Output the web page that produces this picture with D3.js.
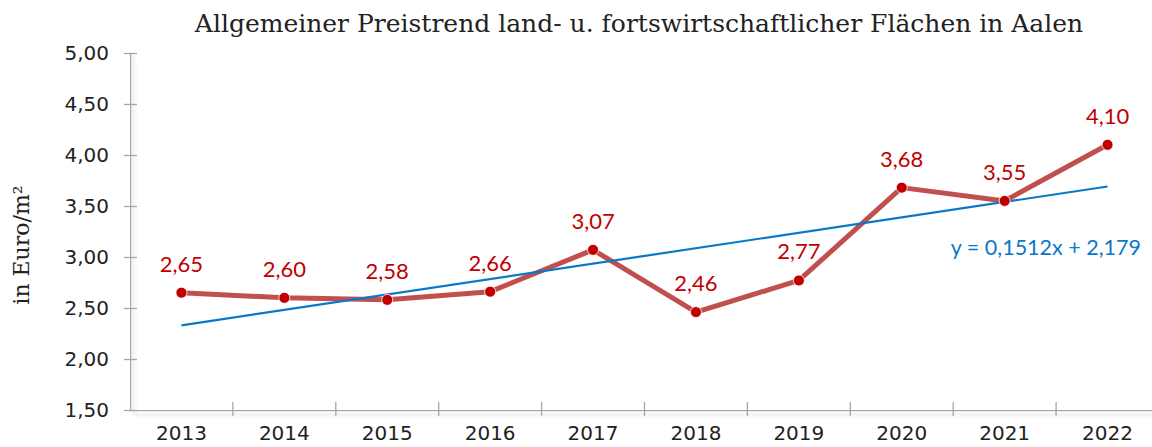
<!DOCTYPE html>
<html>
<head>
<meta charset="utf-8">
<script src="https://cdn.jsdelivr.net/npm/d3@7"></script>
<style>
  body { margin: 0; background: #fff; overflow: hidden; }
</style>
</head>
<body>
<div id="chart"></div>
<script>
// chart data
var years = ["2013", "2014", "2015", "2016", "2017", "2018", "2019", "2020", "2021", "2022"];
var prices = [2.65, 2.60, 2.58, 2.66, 3.07, 2.46, 2.77, 3.68, 3.55, 4.10];
var yTicks = [1.5, 2.0, 2.5, 3.0, 3.5, 4.0, 4.5, 5.0];
var trendSlope = 0.1512;
var trendIntercept = 2.179;

var titleText = "Allgemeiner Preistrend land- u. fortswirtschaftlicher Flächen in Aalen";
var yTitle = "in Euro/m²";
var trendLabel = "y = 0,1512x + 2,179";

// dimensions
var W = 1152, H = 447;
var margin = {top: 53, left: 130, bottom: 37};
var plotRight = 1159;
var plotBottom = H - margin.bottom;

var svg = d3.select("#chart").append("svg")
    .attr("width", W)
    .attr("height", H);

// soft shadow for the axis lines
var defs = svg.append("defs");
var shadow = defs.append("filter").attr("id", "axshadow")
    .attr("filterUnits", "userSpaceOnUse")
    .attr("x", 0).attr("y", 0).attr("width", W + 20).attr("height", H + 20);
shadow.append("feGaussianBlur").attr("in", "SourceAlpha").attr("stdDeviation", 2.5);
shadow.append("feOffset").attr("dx", 2).attr("dy", 3).attr("result", "b");
shadow.append("feComponentTransfer").append("feFuncA").attr("type", "linear").attr("slope", 0.22);
var merge = shadow.append("feMerge");
merge.append("feMergeNode");
merge.append("feMergeNode").attr("in", "SourceGraphic");

var x = d3.scaleBand()
    .domain(years)
    .range([margin.left, plotRight])
    .padding(0);
var y = d3.scaleLinear()
    .domain([1.5, 5])
    .range([plotBottom, margin.top]);

var fmt = function(v) { return d3.format(".2f")(v).replace(".", ","); };

// y axis
var yAxis = svg.append("g")
    .attr("transform", "translate(" + margin.left + ",0)")
    .call(d3.axisLeft(y).tickValues(yTicks).tickFormat(fmt).tickSizeInner(6).tickSizeOuter(0).tickPadding(15));
yAxis.select(".domain").attr("stroke", "#a6a6a6").attr("stroke-width", 1.5).attr("filter", "url(#axshadow)");
yAxis.selectAll(".tick line").attr("stroke", "#a6a6a6").attr("stroke-width", 1.3)
    .attr("x1", 7).attr("x2", -6);
yAxis.selectAll("text")
    .attr("font-family", "DejaVu Sans")
    .attr("font-size", 20)
    .attr("fill", "#222");

// x axis
var xAxis = svg.append("g")
    .attr("transform", "translate(0," + plotBottom + ")")
    .call(d3.axisBottom(x).tickSizeOuter(0).tickSize(0).tickPadding(16));
xAxis.select(".domain").attr("stroke", "#a6a6a6").attr("stroke-width", 1.5).attr("filter", "url(#axshadow)");
xAxis.selectAll(".tick line").remove();
xAxis.selectAll("text")
    .attr("font-family", "DejaVu Sans")
    .attr("font-size", 20)
    .attr("fill", "#222");
// category separator ticks
xAxis.selectAll(".sep")
    .data(years.slice(1))
    .enter().append("line")
    .attr("class", "sep")
    .attr("x1", function(d) { return x(d); })
    .attr("x2", function(d) { return x(d); })
    .attr("y1", -8)
    .attr("y2", 6)
    .attr("stroke", "#a6a6a6")
    .attr("stroke-width", 1.3);

var xc = function(d) { return x(d) + x.bandwidth() / 2; };

// price line
var line = d3.line()
    .x(function(d, i) { return xc(years[i]); })
    .y(function(d) { return y(d); });
svg.append("path")
    .datum(prices)
    .attr("d", line)
    .attr("fill", "none")
    .attr("stroke", "#c0504d")
    .attr("stroke-width", 5)
    .attr("stroke-linejoin", "round");

// trend line (drawn over the price line)
svg.append("line")
    .attr("x1", xc(years[0]))
    .attr("y1", y(trendSlope * 1 + trendIntercept))
    .attr("x2", xc(years[years.length - 1]))
    .attr("y2", y(trendSlope * years.length + trendIntercept))
    .attr("stroke", "#0a78c8")
    .attr("stroke-width", 2.2);

svg.append("text")
    .attr("x", 1141)
    .attr("y", 255)
    .attr("text-anchor", "end")
    .attr("font-family", "Lato")
    .attr("font-size", 21.5)
    .attr("fill", "#0a78c8")
    .text(trendLabel);

svg.selectAll(".pt")
    .data(prices)
    .enter().append("circle")
    .attr("class", "pt")
    .attr("cx", function(d, i) { return xc(years[i]); })
    .attr("cy", function(d) { return y(d); })
    .attr("r", 5.5)
    .attr("fill", "#c00000")
    .attr("stroke", "#fff")
    .attr("stroke-width", 0.8);

svg.selectAll(".lbl")
    .data(prices)
    .enter().append("text")
    .attr("class", "lbl")
    .attr("x", function(d, i) { return xc(years[i]); })
    .attr("y", function(d) { return y(d) - 21; })
    .attr("text-anchor", "middle")
    .attr("font-family", "Lato")
    .attr("font-size", 22)
    .attr("fill", "#c00000")
    .text(fmt);

// title
svg.append("text")
    .attr("x", 639)
    .attr("y", 32)
    .attr("text-anchor", "middle")
    .attr("font-family", "DejaVu Serif")
    .attr("font-size", 25)
    .attr("fill", "#222")
    .text(titleText);

// y axis title
svg.append("text")
    .attr("transform", "translate(29,245) rotate(-90)")
    .attr("text-anchor", "middle")
    .attr("font-family", "DejaVu Serif")
    .attr("font-size", 22)
    .attr("fill", "#222")
    .text(yTitle);
</script>
</body>
</html>
